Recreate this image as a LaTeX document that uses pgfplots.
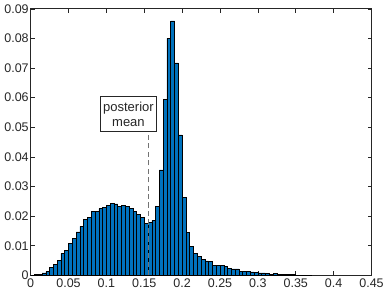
\documentclass[border=0pt]{standalone}
\usepackage{pgfplots}
\pgfplotsset{compat=1.18}
\usepackage{pgfplotstable}
\usepackage{fontspec}
\setmainfont{Liberation Sans}
\definecolor{barblue}{rgb}{0,0.447,0.741}
\definecolor{axgray}{rgb}{0.15,0.15,0.15}
\pgfplotstableread{
x y
0.0025 0.0001
0.0075 0.0002
0.0125 0.0004
0.0175 0.0008
0.0225 0.0013
0.0275 0.0026
0.0325 0.0038
0.0375 0.0050
0.0425 0.0073
0.0475 0.0085
0.0525 0.0107
0.0575 0.0126
0.0625 0.0147
0.0675 0.0165
0.0725 0.0189
0.0775 0.0195
0.0825 0.0215
0.0875 0.0216
0.0925 0.0225
0.0975 0.0229
0.1025 0.0235
0.1075 0.0243
0.1125 0.0241
0.1175 0.0234
0.1225 0.0236
0.1275 0.0233
0.1325 0.0225
0.1375 0.0216
0.1425 0.0207
0.1475 0.0196
0.1525 0.0175
0.1575 0.0180
0.1625 0.0186
0.1675 0.0233
0.1725 0.0356
0.1775 0.0593
0.1825 0.0800
0.1875 0.0859
0.1925 0.0717
0.1975 0.0474
0.2025 0.0264
0.2075 0.0145
0.2125 0.0099
0.2175 0.0074
0.2225 0.0063
0.2275 0.0055
0.2325 0.0049
0.2375 0.0046
0.2425 0.0035
0.2475 0.0035
0.2525 0.0033
0.2575 0.0030
0.2625 0.0023
0.2675 0.0022
0.2725 0.0022
0.2775 0.0014
0.2825 0.0014
0.2875 0.0014
0.2925 0.0012
0.2975 0.0011
0.3025 0.0008
0.3075 0.0008
0.3125 0.0007
0.3175 0.0004
0.3225 0.0007
0.3275 0.0004
0.3325 0.0003
0.3375 0.0003
0.3425 0.0002
0.3475 0.0002
0.3525 0.0001
0.3575 0.0001
0.3625 0.0001
0.3675 0.0001
}\histdata
\begin{document}
\begin{tikzpicture}
\begin{axis}[
  scale only axis,
  width=261.75pt, height=204.75pt,
  xmin=0, xmax=0.45, ymin=0, ymax=0.09,
  xtick={0,0.05,...,0.45},
  ytick={0,0.01,...,0.09},
  scaled ticks=false,
  xticklabel style={/pgf/number format/fixed,/pgf/number format/precision=2},
  yticklabel style={/pgf/number format/fixed,/pgf/number format/precision=2},
  /pgf/number format/assume math mode=true,
  tick label style={font=\fontsize{9.6}{10}\selectfont, text=axgray},
  tick align=inside,
  major tick length=3pt,
  axis line style={axgray, line width=0.5pt},
  every tick/.style={axgray, line width=0.4pt},
  xticklabel shift=-1pt,
  yticklabel shift=-2pt,
  clip=true,
]
\addplot[ybar, bar width=0.005, bar shift=0pt, fill=barblue, draw=black, line width=0.45pt] table[x=x,y=y] {\histdata};
\addplot[black!55, line width=0.7pt, dash pattern=on 4pt off 2.5pt] coordinates {(0.1553,0) (0.1553,0.0486)};
\node[draw=axgray, fill=white, align=center, font=\fontsize{10}{11.5}\selectfont, text=axgray, minimum width=42.5pt, minimum height=27pt, inner sep=2pt, line width=0.5pt] at (axis cs:0.1291,0.0545) {posterior\\mean};
\end{axis}
\end{tikzpicture}
\end{document}
